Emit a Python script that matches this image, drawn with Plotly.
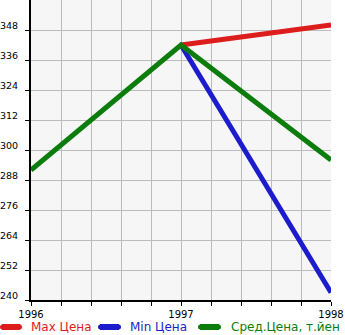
import plotly.graph_objects as go

years = [1996, 1997, 1998]
max_price = [None, 342, 350]
min_price = [None, 342, 243]
avg_price = [292, 342, 296]
y_ticks = [240, 252, 264, 276, 288, 300, 312, 324, 336, 348]
names = ["Max Цена", "Min Цена", "Сред.Цена, т.йен"]
colors = ["#dd1c1c", "#1c1ccc", "#0c7d0c"]

fig = go.Figure()
for vals, nm, col in zip([max_price, min_price, avg_price], names, colors):
    fig.add_trace(go.Scatter(x=years, y=vals, mode="lines", name=nm,
                             line=dict(color=col, width=5), showlegend=False))

W, H = 345, 335
L, R, T, B = 31, 14, 0, 35
pw, ph = W - L - R, H - T - B

def px(x):
    return (x - L) / pw

def py(y):
    return (H - B - y) / ph

# manual legend (paper coordinates)
leg_y = 327
leg_items = [(0, 22, 31), (98, 121, 130), (198, 221, 231)]
shapes, annots = [], []
for (x0, x1, tx), nm, col in zip(leg_items, names, colors):
    shapes.append(dict(type="line", xref="paper", yref="paper",
                       x0=px(x0 + 2), x1=px(x1 - 2), y0=py(leg_y), y1=py(leg_y),
                       line=dict(color=col, width=6)))
    shapes.append(dict(type="circle", xref="paper", yref="paper",
                       x0=px(x0), x1=px(x0 + 5), y0=py(leg_y - 2.5), y1=py(leg_y + 2.5),
                       fillcolor=col, line=dict(width=0)))
    shapes.append(dict(type="circle", xref="paper", yref="paper",
                       x0=px(x1 - 5), x1=px(x1), y0=py(leg_y - 2.5), y1=py(leg_y + 2.5),
                       fillcolor=col, line=dict(width=0)))
    annots.append(dict(xref="paper", yref="paper", x=px(tx - 2), y=py(leg_y),
                       xanchor="left", yanchor="middle", showarrow=False,
                       text=nm, font=dict(color=col, size=12, family="DejaVu Sans")))

fig.update_layout(
    width=W, height=H,
    margin=dict(l=L, r=R, t=T, b=B, autoexpand=False),
    paper_bgcolor="white",
    plot_bgcolor="#f6f6f6",
    font=dict(family="DejaVu Sans", size=10, color="black"),
    showlegend=False,
    shapes=shapes,
    annotations=annots,
)

fig.update_xaxes(range=[1996, 1998], tickvals=[1996, 1997, 1998],
                 ticktext=["1996", "1997", "1998"],
                 showgrid=True, gridcolor="#bbbbbb", gridwidth=1,
                 minor=dict(dtick=0.2, tick0=1996, showgrid=True, gridcolor="#bbbbbb",
                            ticks="outside", ticklen=4, tickcolor="black"),
                 ticks="outside", ticklen=4, tickcolor="black",
                 showline=True, linecolor="black", linewidth=2,
                 tickfont=dict(size=10),
                 zeroline=False, fixedrange=True, automargin=False)
fig.update_yaxes(range=[240, 360], tickvals=y_ticks,
                 showgrid=True, gridcolor="#bbbbbb", gridwidth=1,
                 ticks="outside", ticklen=4, tickcolor="black",
                 showline=True, linecolor="black", linewidth=2,
                 tickfont=dict(size=9.5),
                 ticklabelshift=-4, ticklabelstandoff=5,
                 zeroline=False, fixedrange=True, automargin=False)

fig.write_html("out.html", config={"displayModeBar": False})
